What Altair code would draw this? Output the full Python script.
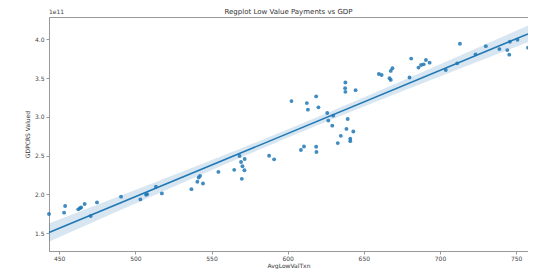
import altair as alt
import pandas as pd
import numpy as np

# AvgLowValTxn values
avg_low_val_txn = [
    443.3, 453.2, 453.9, 462.5, 463.6, 464.4, 466.7, 470.7, 474.8, 490.6,
    503.3, 507.0, 507.7, 513.5, 517.4, 536.8, 540.7, 541.6, 542.5, 544.4,
    554.5, 564.9, 568.4, 569.4, 570.3, 571.6, 571.8, 569.9, 587.8, 591.1,
    602.5, 608.7, 610.7, 612.6, 613.3, 618.7, 618.7, 618.9, 620.2, 626.0,
    626.7, 629.3, 629.9, 632.9, 634.9, 637.9, 637.7, 637.9, 639.4, 638.6,
    641.1, 641.1, 643.1, 644.6, 659.9, 661.7, 666.9, 667.7, 667.7, 668.8,
    681.1, 680.0, 685.9, 687.6, 689.3, 690.8, 693.2, 703.8, 711.3, 713.1,
    723.4, 730.1, 739.0, 744.2, 745.5, 745.9, 750.9, 757.8,
]
# GDP values, in units of 1e11
gdp_e11 = [
    1.747, 1.765, 1.850, 1.808, 1.821, 1.833, 1.876, 1.722, 1.897, 1.971,
    1.936, 1.996, 2.004, 2.099, 2.013, 2.068, 2.163, 2.218, 2.240, 2.141,
    2.291, 2.317, 2.496, 2.419, 2.363, 2.312, 2.458, 2.201, 2.500, 2.453,
    3.205, 2.573, 2.619, 3.179, 3.094, 3.265, 2.615, 2.547, 3.124, 3.051,
    2.953, 2.888, 3.017, 2.663, 2.756, 3.445, 3.372, 3.324, 2.974, 2.846,
    2.718, 2.688, 2.812, 3.346, 3.555, 3.542, 3.500, 3.478, 3.594, 3.628,
    3.753, 3.509, 3.637, 3.671, 3.679, 3.735, 3.701, 3.606, 3.692, 3.945,
    3.808, 3.914, 3.876, 3.863, 3.804, 3.971, 3.996, 3.894,
]

x_ticks = [450, 500, 550, 600, 650, 700, 750]
y_ticks = [1.5, 2.0, 2.5, 3.0, 3.5, 4.0]
y_domain = [1.27, 4.29]

df = pd.DataFrame({"x": avg_low_val_txn, "y": gdp_e11})
x_domain = [min(avg_low_val_txn), max(avg_low_val_txn)]

# 95% confidence band of the fitted line (computed from the data)
xa = np.array(avg_low_val_txn)
ya = np.array(gdp_e11)
n = len(xa)
b1, b0 = np.polyfit(xa, ya, 1)
resid = ya - (b0 + b1 * xa)
s = np.sqrt(np.sum(resid ** 2) / (n - 2))
sxx = np.sum((xa - xa.mean()) ** 2)
grid = np.linspace(x_domain[0], x_domain[1], 100)
pred = b0 + b1 * grid
se = s * np.sqrt(1.0 / n + (grid - xa.mean()) ** 2 / sxx)
band_df = pd.DataFrame({"x": grid, "lo": pred - 2.2 * se, "hi": pred + 2.2 * se})

blue = "#1f77b4"
font = "DejaVu Sans"

xscale = alt.Scale(domain=x_domain, nice=False, zero=False)
yscale = alt.Scale(domain=y_domain, nice=False, zero=False)
xaxis = alt.Axis(values=x_ticks, title="AvgLowValTxn", grid=False, format="d",
                 labelPadding=1, titlePadding=1)
yaxis = alt.Axis(values=y_ticks, title="GDPCRS Valued", grid=False, format=".1f",
                 labelPadding=2, titlePadding=4)

band = alt.Chart(band_df).mark_area(color=blue, opacity=0.18).encode(
    x=alt.X("x:Q", scale=xscale, axis=xaxis),
    y=alt.Y("lo:Q", scale=yscale, axis=yaxis),
    y2="hi:Q",
)

line = alt.Chart(df).transform_regression(
    "x", "y", extent=x_domain
).mark_line(color=blue, strokeWidth=1.5).encode(
    x=alt.X("x:Q", scale=xscale),
    y=alt.Y("y:Q", scale=yscale),
)

points = alt.Chart(df).mark_circle(color=blue, size=15, opacity=0.85).encode(
    x=alt.X("x:Q", scale=xscale),
    y=alt.Y("y:Q", scale=yscale),
)

offset_text = alt.Chart(pd.DataFrame({"t": ["1e11"]})).mark_text(
    align="left", baseline="bottom", fontSize=6, font=font, color="#444"
).encode(x=alt.value(0), y=alt.value(-2), text="t:N")

chart = alt.layer(band, line, points, offset_text).properties(
    width=479,
    height=234,
    title=alt.TitleParams(
        "Regplot Low Value Payments vs GDP",
        fontSize=7, font=font, fontWeight="normal", color="#333", offset=-6,
        frame="group",
    ),
    padding={"left": 41, "top": 9, "right": 0, "bottom": 18},
    autosize=alt.AutoSizeParams(type="none"),
).configure_view(
    stroke="#999", strokeWidth=1
).configure_axis(
    domainColor="#999", tickColor="#999", tickSize=3,
    labelFont=font, labelFontSize=6, labelColor="#444",
    titleFont=font, titleFontSize=6, titleColor="#333", titleFontWeight="normal",
)

chart.save("out.html", embed_options={"renderer": "svg", "actions": False})
